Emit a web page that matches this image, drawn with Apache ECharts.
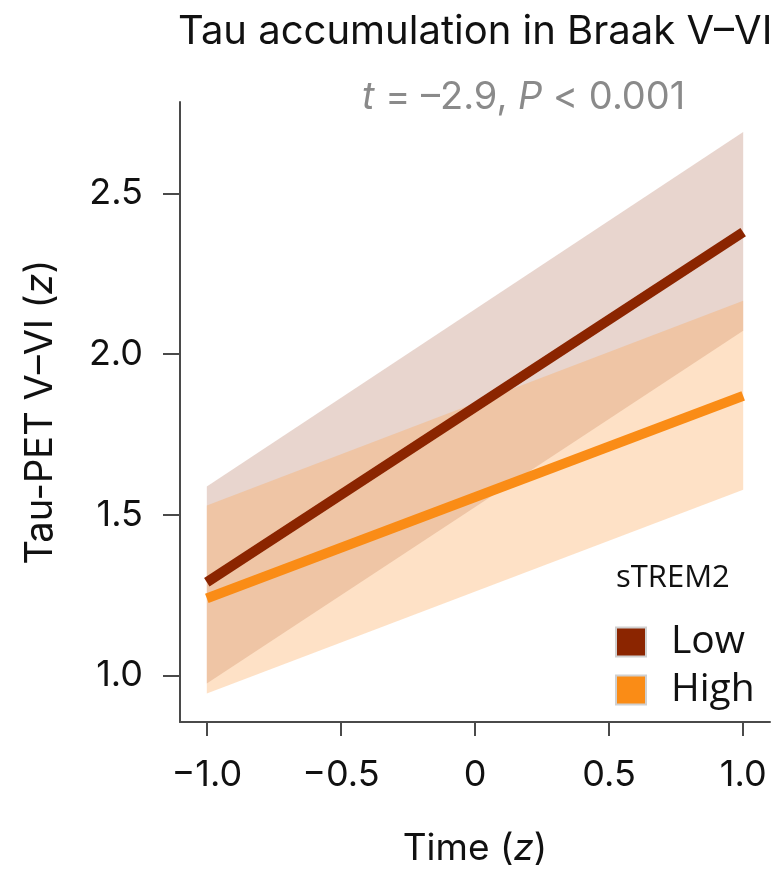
<!DOCTYPE html>
<html>
<head>
<meta charset="utf-8">
<script src="https://cdn.jsdelivr.net/npm/echarts@6/dist/echarts.min.js"></script>
<style>
  html, body { margin: 0; padding: 0; background: #fff; }
  #chart { width: 783px; height: 872px; }
</style>
</head>
<body>
<div id="chart"></div>
<script>
// Time points (z) at which the model is evaluated
const timeZ = [-1.0, 1.0];

// Fitted tau-PET trajectories per sTREM2 group
const lowFit = [1.29, 2.38];
const highFit = [1.24, 1.87];

// 95% confidence bands (lower / upper)
const lowLower = [0.975, 2.073];
const lowUpper = [1.588, 2.692];
const highLower = [0.944, 1.578];
const highUpper = [1.529, 2.166];

// Axis ticks and their labels
const xTicks = [-1.0, -0.5, 0, 0.5, 1.0];
const xTickLabels = ['\u22121.0', '\u22120.5', '0', '0.5', '1.0'];
const yTicks = [1.0, 1.5, 2.0, 2.5];
const yTickLabels = ['1.0', '1.5', '2.0', '2.5'];

const groups = ['Low', 'High'];

const FONT = 'Inter, "Noto Sans", sans-serif';
const LEG_FONT = '"Open Sans", "Noto Sans", sans-serif';

const pairs = (xs, ys) => xs.map((x, i) => [x, ys[i]]);

// Confidence band as a filled polygon through the axis scales
function bandSeries(lower, upper, color) {
  return {
    type: 'custom', silent: true, clip: true,
    data: timeZ.map((x, i) => [x, lower[i], upper[i]]),
    encode: { x: 0, y: [1, 2] },
    renderItem: function (params, api) {
      if (params.dataIndex !== 0) return null;
      const top = timeZ.map((x, i) => api.coord([x, upper[i]]));
      const bottom = timeZ.map((x, i) => api.coord([x, lower[i]])).reverse();
      return {
        type: 'polygon',
        shape: { points: top.concat(bottom) },
        style: { fill: color }
      };
    }
  };
}

function fitSeries(name, values, color) {
  return {
    name: name, type: 'line', symbol: 'none', silent: true,
    lineStyle: { color: color, width: 10, cap: 'butt' },
    itemStyle: { color: color, borderColor: '#d0d0d0', borderWidth: 2 },
    data: pairs(timeZ, values)
  };
}

const chart = echarts.init(document.getElementById('chart'), null, { renderer: 'canvas' });

chart.setOption({
  backgroundColor: '#ffffff',
  animation: false,
  title: [
    {
      text: 'Tau accumulation in Braak V\u2013VI',
      left: 173, top: 7,
      textStyle: { fontFamily: FONT, fontSize: 40, fontWeight: 'normal', color: '#111' }
    },
    {
      text: '{i|t} = \u20132.9, {i|P} < 0.001',
      left: 357, top: 74,
      textStyle: {
        fontFamily: FONT, fontSize: 38, fontWeight: 'normal', color: '#8a8a8a',
        rich: { i: { fontFamily: FONT, fontSize: 38, fontStyle: 'italic', color: '#8a8a8a' } }
      }
    },
    {
      text: 'sTREM2',
      left: 611, top: 558,
      textStyle: { fontFamily: LEG_FONT, fontSize: 31, fontWeight: 'normal', color: '#111' }
    }
  ],
  legend: {
    data: groups,
    orient: 'vertical',
    left: 610, top: 614,
    icon: 'rect',
    itemWidth: 30, itemHeight: 29,
    itemGap: 2,
    textStyle: { fontFamily: LEG_FONT, fontSize: 39, color: '#111', padding: [0, 0, 0, 20], lineHeight: 46 }
  },
  grid: { left: 180, right: 13, top: 102, bottom: 146 },
  xAxis: {
    type: 'value', min: -1.1, max: 1.1,
    name: 'Time ({i|z})', nameLocation: 'middle', nameGap: 108,
    nameTextStyle: {
      fontFamily: FONT, fontSize: 37, color: '#111',
      rich: { i: { fontFamily: FONT, fontSize: 37, fontStyle: 'italic', color: '#111' } }
    },
    axisLine: { show: true, onZero: false, lineStyle: { color: '#4a4a4a', width: 2 } },
    axisTick: { show: true, customValues: xTicks, length: 14, lineStyle: { color: '#4a4a4a', width: 2 } },
    axisLabel: {
      customValues: xTicks, margin: 35,
      fontFamily: FONT, fontSize: 36, color: '#111',
      formatter: v => xTickLabels[xTicks.indexOf(v)] ?? ''
    },
    splitLine: { show: false }
  },
  yAxis: {
    type: 'value', min: 0.855, max: 2.785,
    name: 'Tau-PET V\u2013VI ({i|z})', nameLocation: 'middle', nameGap: 120,
    nameTextStyle: {
      fontFamily: FONT, fontSize: 38, color: '#111',
      rich: { i: { fontFamily: FONT, fontSize: 38, fontStyle: 'italic', color: '#111' } }
    },
    axisLine: { show: true, onZero: false, lineStyle: { color: '#4a4a4a', width: 2 } },
    axisTick: { show: true, customValues: yTicks, length: 17, lineStyle: { color: '#4a4a4a', width: 2 } },
    axisLabel: {
      customValues: yTicks, margin: 37,
      fontFamily: FONT, fontSize: 36, color: '#111',
      formatter: v => yTickLabels[yTicks.indexOf(v)] ?? ''
    },
    splitLine: { show: false }
  },
  series: [
    bandSeries(lowLower, lowUpper, 'rgba(160,80,50,0.24)'),
    fitSeries('Low', lowFit, '#8b2500'),
    bandSeries(highLower, highUpper, 'rgba(252,168,88,0.34)'),
    fitSeries('High', highFit, '#fa8c16')
  ]
});
</script>
</body>
</html>
